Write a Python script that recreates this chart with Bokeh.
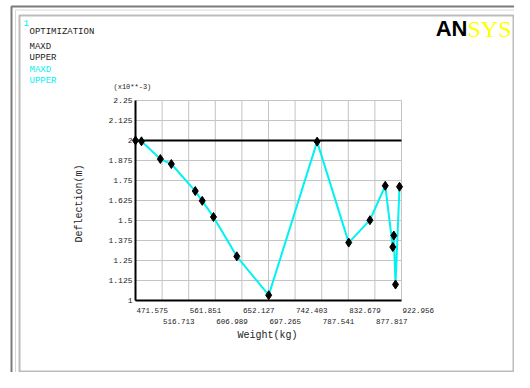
from bokeh.plotting import figure
from bokeh.models import Label, LabelSet, ColumnDataSource, BoxAnnotation, Range1d
from bokeh.core.properties import value
from bokeh.embed import file_html
from bokeh.resources import INLINE

# ---------------- data ----------------
weight = [471.6, 481.7, 513.8, 532.4, 573.0, 584.8, 603.9, 643.5, 697.6,
          779.8, 833.4, 869.4, 895.4, 908.2, 909.9, 912.8, 919.6]
maxd = [2.000, 1.995, 1.884, 1.853, 1.684, 1.623, 1.522, 1.276, 1.033,
        1.993, 1.362, 1.502, 1.717, 1.334, 1.406, 1.100, 1.711]
upper_value = 2.0

xtick_labels = ["471.575", "516.713", "561.851", "606.989", "652.127", "697.265",
                "742.403", "787.541", "832.679", "877.817", "922.956"]
ytick_labels = ["1", "1.125", "1.25", "1.375", "1.5", "1.625", "1.75",
                "1.875", "2", "2.125", "2.25"]
xticks = [float(s) for s in xtick_labels]
yticks = [float(s) for s in ytick_labels]

legend_black = ["MAXD", "UPPER"]
legend_cyan = ["MAXD", "UPPER"]

# ---------------- layout ----------------
W, H = 514, 372
F_L, F_R, F_T, F_B = 135, 401, 100, 300  # plot area in pixels

x0, x1 = xticks[0], xticks[-1]
y0, y1 = yticks[0], yticks[-1]


def X(px):
    return x0 + (px - F_L) * (x1 - x0) / (F_R - F_L)


def Y(py):
    return y0 + (F_B - py) * (y1 - y0) / (F_B - F_T)


MONO = "Liberation Mono"
CYAN = "#00F2F2"
TXT = "#222222"
GRID = "#c4c4c4"

p = figure(width=W, height=H, output_backend="svg", toolbar_location=None,
           x_range=Range1d(X(0), X(W)), y_range=Range1d(Y(H), Y(0)),
           x_axis_location=None, y_axis_location=None,
           min_border=0)
p.background_fill_color = "white"
p.border_fill_color = "white"
p.outline_line_color = None
p.xgrid.visible = False
p.ygrid.visible = False

# grid lines (from the tick arrays, through the data scales)
p.segment(x0=xticks, y0=[y0] * len(xticks), x1=xticks, y1=[y1] * len(xticks),
          line_color=GRID, line_width=1)
p.segment(x0=[x0] * len(yticks), y0=yticks, x1=[x1] * len(yticks), y1=yticks,
          line_color=GRID, line_width=1)

# axis lines
p.line([x0, x0], [y0, y1], line_color="black", line_width=2)
p.line([x0, x1], [y0, y0], line_color="black", line_width=2)

# y tick labels
yl_src = ColumnDataSource(dict(x=[x0] * len(yticks), y=yticks, t=ytick_labels))
p.add_layout(LabelSet(x="x", y="y", text="t", source=yl_src, x_offset=-3,
                      text_align="right", text_baseline="middle",
                      text_font=value(MONO), text_font_size=value("8px"),
                      text_color=TXT))

# x tick labels, staggered, left aligned at the grid line
xl_src = ColumnDataSource(dict(
    x=xticks,
    y=[Y(310) if i % 2 == 0 else Y(321) for i in range(len(xticks))],
    t=xtick_labels))
p.add_layout(LabelSet(x="x", y="y", text="t", source=xl_src, x_offset=1,
                      text_align="left", text_baseline="middle",
                      text_font=value(MONO), text_font_size=value("7.5px"),
                      text_color=TXT))

# series
p.line([x0, x1], [upper_value, upper_value], line_color="black", line_width=2)
p.line(weight, maxd, line_color=CYAN, line_width=2)
p.scatter(weight, maxd, marker="diamond", size=9, fill_color="black",
          line_color="black")

# axis titles
p.add_layout(Label(x=X(267), y=Y(335), text="Weight(kg)", text_align="center",
                   text_baseline="middle", text_font=MONO, text_font_size="10px",
                   text_color=TXT))
p.add_layout(Label(x=X(79), y=Y(203), text="Deflection(m)", angle=1.5708,
                   text_align="center", text_baseline="middle", text_font=MONO,
                   text_font_size="10px", text_color=TXT))
p.add_layout(Label(x=X(113), y=Y(86), text="(x10**-3)", text_align="left",
                   text_baseline="middle", text_font=MONO, text_font_size="7px",
                   text_color=TXT))

# header texts
p.add_layout(Label(x=X(23), y=Y(22), text="1", text_align="left",
                   text_baseline="middle", text_font=MONO, text_font_size="9px",
                   text_color=CYAN))
p.add_layout(Label(x=X(29), y=Y(31), text="OPTIMIZATION", text_align="left",
                   text_baseline="middle", text_font=MONO, text_font_size="9px",
                   text_color=TXT))
for i, t in enumerate(legend_black):
    p.add_layout(Label(x=X(29), y=Y(46 + 11.5 * i), text=t, text_align="left",
                       text_baseline="middle", text_font=MONO,
                       text_font_size="9px", text_color=TXT))
for i, t in enumerate(legend_cyan):
    p.add_layout(Label(x=X(29), y=Y(69 + 11 * i), text=t, text_align="left",
                       text_baseline="middle", text_font=MONO,
                       text_font_size="9px", text_color=CYAN))

# logo
p.add_layout(Label(x=X(467), y=Y(28), text="AN", text_align="right",
                   text_baseline="middle", text_font="Liberation Sans",
                   text_font_style="bold", text_font_size="22px",
                   text_color="black"))
p.add_layout(Label(x=X(467), y=Y(28), text="SYS", text_align="left",
                   text_baseline="middle", text_font="Liberation Serif",
                   text_font_size="24px", text_color="#FFFF00"))

# outer window frame (left and top edges only are visible)
p.line([X(11), X(11), X(W + 20)], [Y(H + 20), Y(6), Y(6)],
       line_color="#7a7a7a", line_width=2)
p.line([X(15), X(15), X(W + 20)], [Y(H + 20), Y(9.5), Y(9.5)],
       line_color="#d8d8d8", line_width=1)
# inner graphics frame
p.add_layout(BoxAnnotation(left=X(19), right=X(min(516, W - 1)), top=Y(15),
                           bottom=Y(H - 1), fill_alpha=0,
                           line_color="#222222", line_width=2))

open("out.html", "w").write(file_html(p, INLINE))
